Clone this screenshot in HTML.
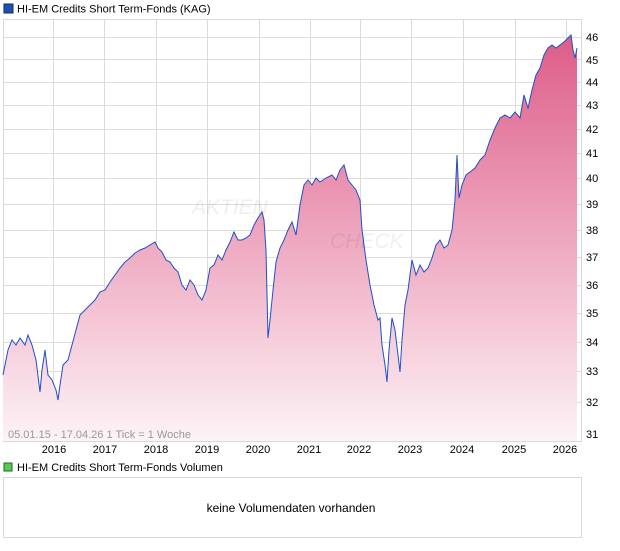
<!DOCTYPE html>
<html><head><meta charset="utf-8"><style>
body{margin:0;background:#fff;width:620px;height:546px;overflow:hidden;font-family:"Liberation Sans",Arial,sans-serif}
</style></head><body>
<svg width="620" height="546" xmlns="http://www.w3.org/2000/svg" font-family="Liberation Sans, Arial, sans-serif">
<defs>
<linearGradient id="g" gradientUnits="userSpaceOnUse" x1="0" y1="30" x2="0" y2="441">
<stop offset="0" stop-color="#dd5a86"/>
<stop offset="0.5" stop-color="#eea6bf"/>
<stop offset="1" stop-color="#fdf3f6"/>
</linearGradient>
</defs>
<rect x="4" y="4" width="9" height="9" fill="#1f4fb5" stroke="#0a2a70" stroke-width="1"/>
<text x="17" y="12.5" font-size="11" fill="#000">HI-EM Credits Short Term-Fonds (KAG)</text>
<rect x="3.5" y="19.5" width="578" height="422" fill="#fff" stroke="#d8d8d8"/>
<g stroke="#dcdcdc" stroke-width="1">
<line x1="53.5" y1="20" x2="53.5" y2="441"/><line x1="104.5" y1="20" x2="104.5" y2="441"/><line x1="156.5" y1="20" x2="156.5" y2="441"/><line x1="207.5" y1="20" x2="207.5" y2="441"/><line x1="259.5" y1="20" x2="259.5" y2="441"/><line x1="310.5" y1="20" x2="310.5" y2="441"/><line x1="360.5" y1="20" x2="360.5" y2="441"/><line x1="411.5" y1="20" x2="411.5" y2="441"/><line x1="463.5" y1="20" x2="463.5" y2="441"/><line x1="515.5" y1="20" x2="515.5" y2="441"/><line x1="566.5" y1="20" x2="566.5" y2="441"/>
<line x1="4" y1="37.5" x2="581" y2="37.5"/><line x1="4" y1="59.5" x2="581" y2="59.5"/><line x1="4" y1="82.5" x2="581" y2="82.5"/><line x1="4" y1="105.5" x2="581" y2="105.5"/><line x1="4" y1="129.5" x2="581" y2="129.5"/><line x1="4" y1="153.5" x2="581" y2="153.5"/><line x1="4" y1="178.5" x2="581" y2="178.5"/><line x1="4" y1="204.5" x2="581" y2="204.5"/><line x1="4" y1="230.5" x2="581" y2="230.5"/><line x1="4" y1="257.5" x2="581" y2="257.5"/><line x1="4" y1="285.5" x2="581" y2="285.5"/><line x1="4" y1="313.5" x2="581" y2="313.5"/><line x1="4" y1="342.5" x2="581" y2="342.5"/><line x1="4" y1="371.5" x2="581" y2="371.5"/><line x1="4" y1="402.5" x2="581" y2="402.5"/>
</g>
<path fill="url(#g)" stroke="none" d="M3,441 L3,375 L8,350 L12,340 L16,345 L20,338 L25,345 L28,335 L32,345 L36,360 L40,392 L42,370 L45,350 L48,375 L52,380 L56,390 L58,400 L60,385 L63,365 L68,360 L72,345 L76,330 L80,315 L85,310 L90,305 L95,300 L100,292 L105,290 L110,282 L115,275 L120,268 L125,262 L130,258 L135,253 L140,250 L145,248 L150,245 L155,242 L158,248 L162,252 L166,260 L170,262 L174,268 L178,272 L182,285 L186,290 L190,280 L194,285 L198,295 L202,300 L206,290 L210,268 L214,265 L218,255 L222,260 L226,250 L230,242 L234,232 L238,240 L242,240 L246,238 L250,235 L254,225 L258,218 L262,212 L264,220 L266,250 L268,338 L270,320 L273,290 L276,262 L280,248 L284,240 L288,230 L292,222 L296,235 L300,205 L304,185 L308,180 L312,185 L316,178 L320,182 L326,178 L332,175 L336,180 L340,170 L344,165 L348,180 L352,185 L356,190 L360,200 L362,230 L366,260 L370,285 L374,305 L378,320 L380,318 L382,345 L385,365 L387,382 L389,350 L392,318 L395,330 L398,355 L400,372 L402,340 L405,305 L408,290 L412,260 L416,275 L420,265 L424,272 L428,268 L432,258 L436,245 L440,240 L444,248 L448,245 L452,230 L455,200 L457,155 L459,198 L462,185 L466,175 L470,172 L475,168 L480,160 L485,155 L490,140 L495,128 L500,118 L505,115 L510,118 L515,112 L520,118 L524,95 L528,108 L532,90 L536,75 L540,68 L544,55 L548,48 L552,45 L556,48 L560,45 L564,42 L568,38 L571,35 L573,50 L575,58 L577,48 L577,441 Z"/>
<path fill="none" stroke="#1f4fc8" stroke-width="1" d="M3,375 L8,350 L12,340 L16,345 L20,338 L25,345 L28,335 L32,345 L36,360 L40,392 L42,370 L45,350 L48,375 L52,380 L56,390 L58,400 L60,385 L63,365 L68,360 L72,345 L76,330 L80,315 L85,310 L90,305 L95,300 L100,292 L105,290 L110,282 L115,275 L120,268 L125,262 L130,258 L135,253 L140,250 L145,248 L150,245 L155,242 L158,248 L162,252 L166,260 L170,262 L174,268 L178,272 L182,285 L186,290 L190,280 L194,285 L198,295 L202,300 L206,290 L210,268 L214,265 L218,255 L222,260 L226,250 L230,242 L234,232 L238,240 L242,240 L246,238 L250,235 L254,225 L258,218 L262,212 L264,220 L266,250 L268,338 L270,320 L273,290 L276,262 L280,248 L284,240 L288,230 L292,222 L296,235 L300,205 L304,185 L308,180 L312,185 L316,178 L320,182 L326,178 L332,175 L336,180 L340,170 L344,165 L348,180 L352,185 L356,190 L360,200 L362,230 L366,260 L370,285 L374,305 L378,320 L380,318 L382,345 L385,365 L387,382 L389,350 L392,318 L395,330 L398,355 L400,372 L402,340 L405,305 L408,290 L412,260 L416,275 L420,265 L424,272 L428,268 L432,258 L436,245 L440,240 L444,248 L448,245 L452,230 L455,200 L457,155 L459,198 L462,185 L466,175 L470,172 L475,168 L480,160 L485,155 L490,140 L495,128 L500,118 L505,115 L510,118 L515,112 L520,118 L524,95 L528,108 L532,90 L536,75 L540,68 L544,55 L548,48 L552,45 L556,48 L560,45 L564,42 L568,38 L571,35 L573,50 L575,58 L577,48"/>
<text x="192" y="214" font-size="21" fill="#000" opacity="0.06" font-style="italic">AKTIEN</text>
<text x="330" y="248" font-size="21" fill="#000" opacity="0.06" font-style="italic">CHECK</text>
<text x="8" y="438" font-size="11" fill="#999">05.01.15 - 17.04.26   1 Tick = 1 Woche</text>
<g font-size="11" fill="#000">
<text x="586" y="41">46</text><text x="586" y="64">45</text><text x="586" y="86">44</text><text x="586" y="109">43</text><text x="586" y="133">42</text><text x="586" y="157">41</text><text x="586" y="182">40</text><text x="586" y="208">39</text><text x="586" y="234">38</text><text x="586" y="261">37</text><text x="586" y="289">36</text><text x="586" y="317">35</text><text x="586" y="346">34</text><text x="586" y="375">33</text><text x="586" y="406">32</text><text x="586" y="438">31</text>
</g>
<g font-size="11" fill="#000" text-anchor="middle">
<text x="54" y="453">2016</text><text x="105" y="453">2017</text><text x="156" y="453">2018</text><text x="207" y="453">2019</text><text x="258" y="453">2020</text><text x="309" y="453">2021</text><text x="359" y="453">2022</text><text x="410" y="453">2023</text><text x="462" y="453">2024</text><text x="514" y="453">2025</text><text x="565" y="453">2026</text>
</g>
<rect x="4" y="463" width="8" height="8" fill="#5cc85c" stroke="#1a6a1a" stroke-width="1"/>
<text x="17" y="471" font-size="11" fill="#000">HI-EM Credits Short Term-Fonds Volumen</text>
<rect x="3.5" y="477.5" width="578" height="60" fill="#fff" stroke="#d8d8d8"/>
<text x="291" y="512" font-size="12" fill="#000" text-anchor="middle">keine Volumendaten vorhanden</text>
</svg>
</body></html>
